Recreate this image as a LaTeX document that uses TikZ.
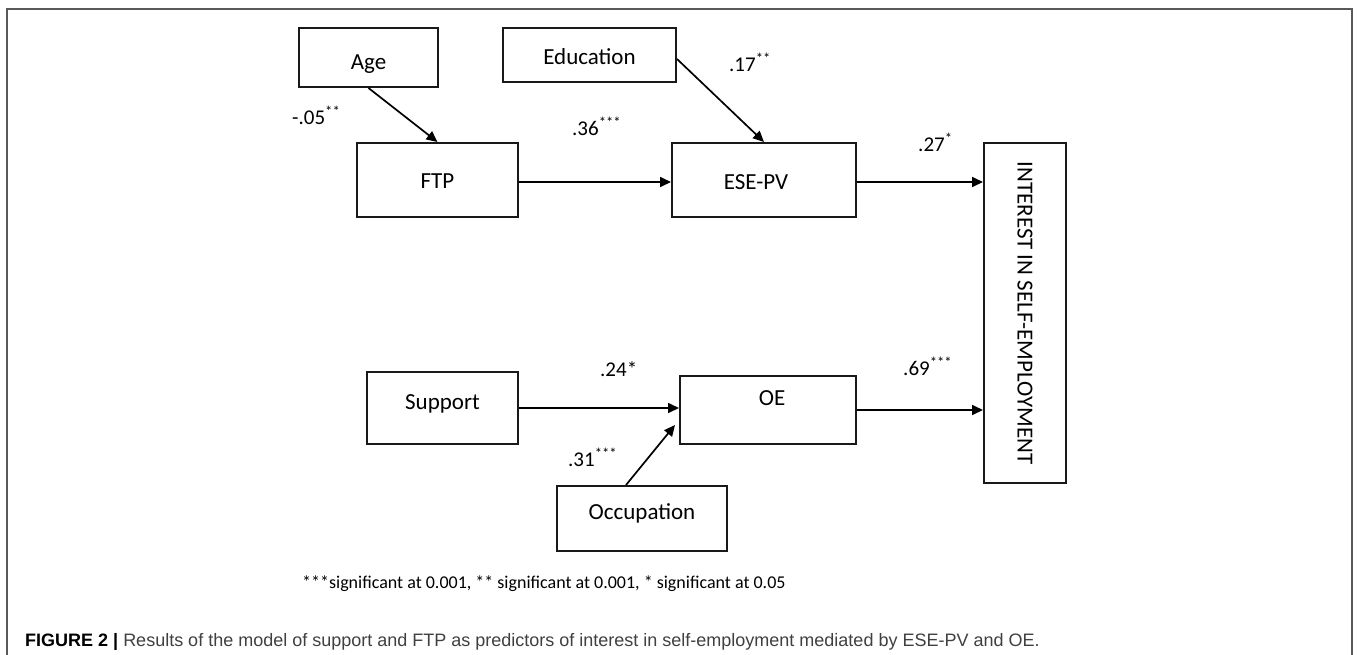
\documentclass[tikz,border=0pt]{standalone}
\usepackage{fontspec}
\setmainfont{Carlito}
\newfontfamily\capfont{Liberation Sans}
\usetikzlibrary{arrows.meta}
\newcommand\txtshift[2]{\raisebox{#1}[\height][\depth]{#2}}
\begin{document}
\begin{tikzpicture}[x=1pt,y=-1pt,
  box/.style={draw=black!90, line width=2pt, inner sep=0pt, font=\fontsize{23}{27}\selectfont},
  lab/.style={font=\fontsize{21}{25}\selectfont, inner sep=0pt, anchor=base west},
  arr/.style={line width=1.7pt, draw=black, -{Triangle[length=11pt,width=10pt]}},
  frame/.style={draw=black!65, line width=1.2pt}
]
\fill[white] (0,0) rectangle (1358,654);
\useasboundingbox (0,0) rectangle (1358,654);
% outer frame (open at the bottom)
\draw[frame] (7,658) -- (7,9) -- (1352,9) -- (1352,658);

% boxes
\node[box, minimum width=139pt, minimum height=59pt] (age) at (368.5,57.5) {\txtshift{-7pt}{Age}};
\node[box, minimum width=173pt, minimum height=54pt] (edu) at (589.5,55) {\txtshift{-2pt}{Education}};
\node[box, minimum width=161pt, minimum height=74pt] (ftp) at (437.5,180) {\txtshift{-1pt}{FTP}};
\node[box, minimum width=184pt, minimum height=74pt] (ese) at (764,180) {\txtshift{-2pt}{ESE-PV\hspace*{16pt}}};
\node[box, minimum width=82pt, minimum height=340pt] (int) at (1025,313) {\rotatebox{-90}{INTEREST IN SELF-EMPLOYMENT}};
\node[box, minimum width=151pt, minimum height=72pt] (sup) at (442.5,408) {\txtshift{4pt}{Support}};
\node[box, minimum width=176pt, minimum height=68pt] (oe) at (768,410) {\txtshift{12pt}{\hspace*{8pt}OE}};
\node[box, minimum width=170pt, minimum height=65pt] (occ) at (642,518.5) {\txtshift{5pt}{Occupation}};

% connectors
\draw[arr] (age.south) -- (ftp.north);
\draw[arr] ([yshift=-4pt]edu.east) -- (ese.north);
\draw[arr] ([yshift=-2pt]ftp.east) -- ([yshift=-2pt]ftp.east -| ese.west);
\draw[arr] ([yshift=-2pt]ese.east) -- ([yshift=-2pt]ese.east -| int.west);
\draw[arr] (sup.east) -- (sup.east -| oe.west);
\draw[arr] (oe.east) -- (oe.east -| int.west);
\draw[arr] ([xshift=-16pt]occ.north) -- ([xshift=-4pt,yshift=-15pt]oe.west);

% coefficients
\node[lab] (l1) at (292,124) {-.05\textsuperscript{**}};
\node[lab] (l2) at (572,135) {.36\textsuperscript{***}};
\node[lab] (l3) at (729,71) {.17\textsuperscript{**}};
\node[lab] (l4) at (918,151) {.27\textsuperscript{*}};
\node[lab] (l5) at (600,376) {.24*};
\node[lab] (l6) at (568,466) {.31\textsuperscript{***}};
\node[lab] (l7) at (903,375) {.69\textsuperscript{***}};

% footnote and caption
\node[anchor=base west, inner sep=0pt, font=\fontsize{18}{22}\selectfont] (note) at (302,588) {***significant at 0.001, ** significant at 0.001, * significant at 0.05};
\node[anchor=base west, inner sep=0pt, font=\capfont\fontsize{18}{22}\selectfont, text=black!75] (cap) at (25,646) {\textbf{\color{black}FIGURE 2 |} Results of the model of support and FTP as predictors of interest in self-employment mediated by ESE-PV and OE.};
\end{tikzpicture}
\end{document}
